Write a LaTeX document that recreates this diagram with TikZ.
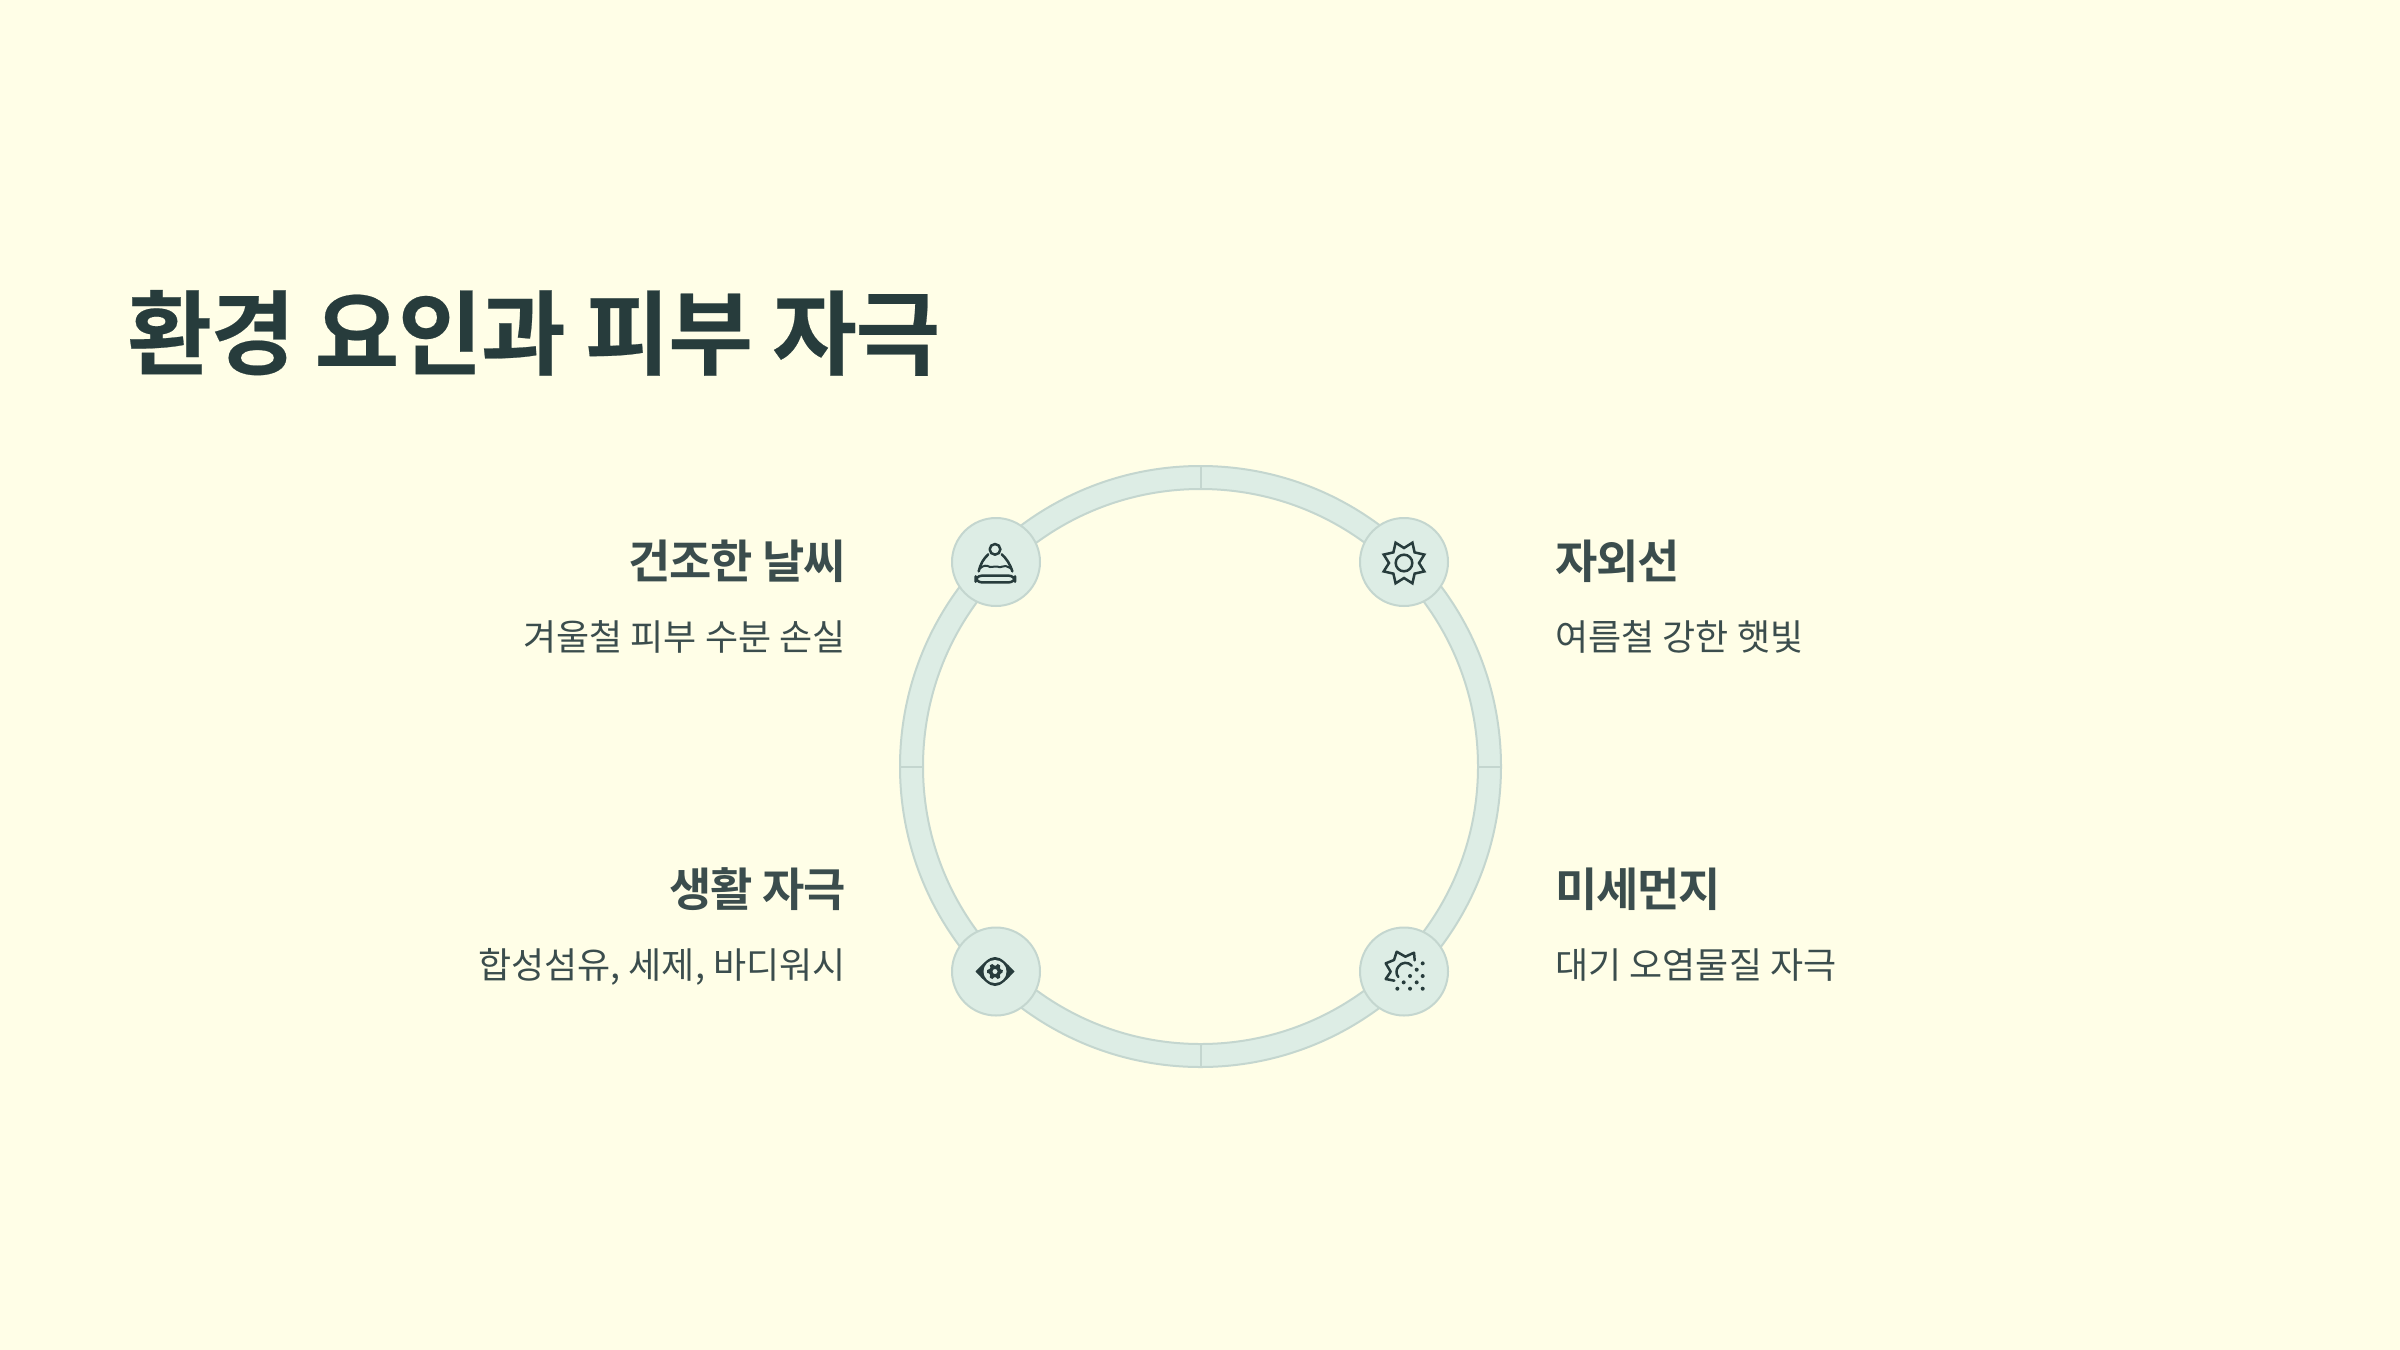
\documentclass[tikz,border=0pt]{standalone}
\usepackage{fontspec}
\setmainfont{Noto Sans CJK KR}[BoldFont={Noto Sans CJK KR Bold}]
\newfontfamily\krtitle{Noto Sans CJK KR Bold}[LetterSpace=-1.6,FakeBold=0.25]
\newfontfamily\krbold{Noto Sans CJK KR Bold}[LetterSpace=-2.6]
\newfontfamily\krreg{Noto Sans CJK KR}
\definecolor{bgc}{HTML}{FFFEE7}
\definecolor{ringfill}{HTML}{DDEDE5}
\definecolor{ringline}{HTML}{C4D6CF}
\definecolor{titlec}{HTML}{273C3C}
\definecolor{bodyc}{HTML}{3B4D4D}
\tikzset{
  x=0.5pt,y=-0.5pt,
  titletext/.style={anchor=base west,inner sep=0,text=titlec,font=\krtitle\fontsize{46pt}{56pt}\selectfont},
  headl/.style={anchor=base east,inner sep=0,text=bodyc,font=\krbold\fontsize{23pt}{28pt}\selectfont},
  headr/.style={anchor=base west,inner sep=0,text=bodyc,font=\krbold\fontsize{23pt}{28pt}\selectfont},
  descl/.style={anchor=base east,inner sep=0,text=bodyc,font=\krreg\fontsize{18pt}{22pt}\selectfont},
  descr/.style={anchor=base west,inner sep=0,text=bodyc,font=\krreg\fontsize{18pt}{22pt}\selectfont},
  hub/.style={circle,draw=ringline,fill=ringfill,line width=1pt,minimum size=44pt,inner sep=0},
  tick/.style={draw=ringline,line width=1pt},
  ico/.style={draw=titlec,line width=1.25pt,line join=round,line cap=round,fill=none},
  dot/.style={fill=titlec,draw=none},
}
\begin{document}
\begin{tikzpicture}
\useasboundingbox[fill=bgc] (0,0) rectangle (2400,1350);
\coordinate (c) at (1200.5,766.5);
% ring
\path[fill=ringfill,even odd rule,draw=ringline,line width=1pt] (c) circle[radius=300.5] (c) circle[radius=277.5];
\draw[tick] (1200.5,466) -- (1200.5,489);
\draw[tick] (1200.5,1044) -- (1200.5,1067);
\draw[tick] (900,766.5) -- (923,766.5);
\draw[tick] (1478,766.5) -- (1501,766.5);
% hubs
\node[hub] (hat) at (996,562) {};
\node[hub] (sun) at (1404,562) {};
\node[hub] (eye) at (996,971.5) {};
\node[hub] (dust) at (1404,971.5) {};
% hat icon
\begin{scope}[shift={(935,510)},x=0.1667pt,y=-0.1667pt]
\draw[ico,rounded corners=3pt] (122,197) rectangle (240,217);
\draw[ico] (180,118) circle[radius=16];
\draw[ico] (131,184) .. controls (136,162) and (146,145) .. (160,133);
\draw[ico] (200,133) .. controls (214,145) and (225,162) .. (232,184);
\draw[ico,line width=1pt] (134,176) .. controls (145,165) and (155,165) .. (165,171) .. controls (173,175) and (178,165) .. (188,170) .. controls (197,176) and (203,165) .. (212,168) .. controls (220,170) and (224,174) .. (229,176);
\end{scope}
% sun icon
\begin{scope}[shift={(1404,563)},x=0.5pt,y=-0.5pt]
\draw[ico,line join=miter] (22.5:22) -- (45:15) -- (67.5:22) -- (90:15) -- (112.5:22) -- (135:15) -- (157.5:22) -- (180:15) -- (202.5:22) -- (225:15) -- (247.5:22) -- (270:15) -- (292.5:22) -- (315:15) -- (337.5:22) -- (0:15) -- cycle;
\draw[ico] (0,0) circle[radius=8.3];
\end{scope}
% eye icon
\begin{scope}[shift={(995,971.5)},x=0.5pt,y=-0.5pt]
\path[fill=titlec] (-19.5,0) .. controls (-11,-9) and (-6,-14.5) .. (0,-14.5) .. controls (6,-14.5) and (11,-9) .. (19.5,0) .. controls (11,9) and (6,14.5) .. (0,14.5) .. controls (-6,14.5) and (-11,9) .. (-19.5,0) -- cycle;
\path[fill=ringfill] (0,0) circle[radius=11.5];
\path[fill=titlec,even odd rule] (10:7.5) -- (20:6) -- (35:6) -- (50:8) -- (70:8) -- (80:6) -- (100:6) -- (110:8) -- (130:8) -- (145:6) -- (160:6) -- (170:8) -- (190:8) -- (205:6) -- (220:6) -- (230:8) -- (250:8) -- (265:6) -- (280:6) -- (290:8) -- (310:8) -- (325:6) -- (340:6) -- (350:8) -- cycle (0,0) circle[radius=2.6];
\end{scope}
% dust icon
\begin{scope}[shift={(1340,915)},x=0.1667pt,y=-0.1667pt]
\draw[ico] (224,136) -- (222,113) -- (196,125) -- (170,110) -- (162,135) -- (137,145) -- (152,170) -- (137,192) -- (163,197);
\draw[ico] (215,152) .. controls (205,140) and (185,140) .. (175,155) .. controls (167,165) and (168,178) .. (175,186);
\foreach \p in {(248,145),(230,164),(210,183),(248,183),(191,202),(230,202),(172,221),(210,221),(248,221)}
  \path[dot] \p circle[radius=6];
\end{scope}
% text
\node[titletext] (title) at (127,367.5) {환경 요인과 피부 자극};
\node[headl] (h1) at (846,578) {건조한 날씨};
\node[descl] (d1) at (846,650) {겨울철 피부 수분 손실};
\node[headl] (h2) at (846,906) {생활 자극};
\node[descl] (d2) at (846,978) {합성섬유, 세제, 바디워시};
\node[headr] (h3) at (1555,578) {자외선};
\node[descr] (d3) at (1555,650) {여름철 강한 햇빛};
\node[headr] (h4) at (1555,906) {미세먼지};
\node[descr] (d4) at (1555,978) {대기 오염물질 자극};
\end{tikzpicture}
\end{document}
